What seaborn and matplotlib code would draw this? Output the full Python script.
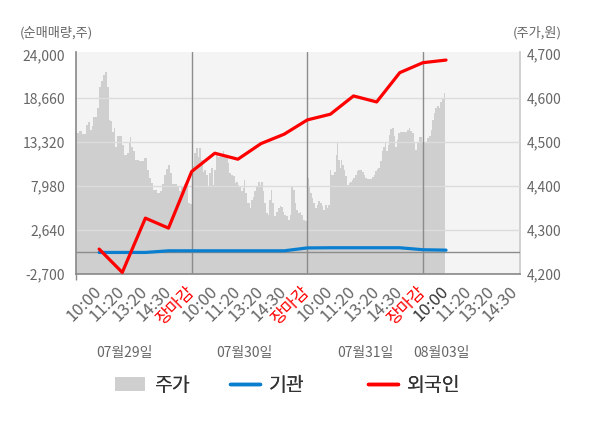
import numpy as np
import pandas as pd
import matplotlib
matplotlib.use("Agg")
import matplotlib.pyplot as plt
import seaborn as sns
from matplotlib.patches import Patch
from matplotlib.lines import Line2D

# ---------------- data ----------------
tick_labels = ["10:00", "11:20", "13:20", "14:30", "장마감"] * 3 + ["10:00", "11:20", "13:20", "14:30"]
tick_pos = list(range(1, 20))
date_labels = ["07월29일", "07월30일", "07월31일", "08월03일"]
date_pos = [2.1, 7.3, 12.5, 15.8]

flow_pos = list(range(1, 17))
foreign = [330, -2510, 4090, 2880, 9750, 11980, 11250, 13150, 14290, 16025,
           16720, 18940, 18210, 21770, 22980, 23300]
institution = [-80, -80, -80, 120, 120, 120, 120, 120, 120, 470,
               490, 490, 490, 490, 250, 200]

price_pos = [0.00, 0.22, 0.29, 0.40, 0.43, 0.58, 0.65, 0.72, 0.79, 0.87, 0.94, 1.01, 1.13, 1.23, 1.27,
             1.37, 1.44, 1.52, 1.59, 1.66, 1.73, 1.80, 1.95, 2.02, 2.14, 2.24, 2.31, 2.35, 2.42, 2.53,
             2.60, 2.81, 3.03, 3.10, 3.20, 3.29, 3.35, 3.46, 3.58, 3.68, 3.75, 3.82, 3.92, 4.04, 4.11,
             4.18, 4.33, 4.40, 4.47, 4.62, 4.76, 4.91, 4.98,
             5.01, 5.08, 5.16, 5.23, 5.30, 5.37, 5.45, 5.52, 5.59, 5.66, 5.73, 5.81, 5.88, 5.95, 6.02,
             6.09, 6.17, 6.24, 6.31, 6.38, 6.46, 6.53, 6.60, 6.67, 6.74, 6.82, 6.89, 6.96, 7.03, 7.10,
             7.18, 7.25, 7.29, 7.36, 7.47, 7.54, 7.61, 7.68, 7.75, 7.83, 7.90, 7.97, 8.04, 8.11, 8.19,
             8.26, 8.33, 8.40, 8.45, 8.52, 8.62, 8.69, 8.76, 8.84, 8.91, 8.98, 9.05, 9.12, 9.20, 9.27,
             9.34, 9.41, 9.49, 9.56, 9.63, 9.70, 9.77, 9.85, 9.92, 9.97,
             9.99, 10.04, 10.10, 10.16, 10.23, 10.30, 10.38, 10.45, 10.52, 10.59, 10.66, 10.74, 10.81,
             10.88, 10.95, 10.99, 11.05, 11.14, 11.20, 11.26, 11.31, 11.37, 11.43, 11.49, 11.54, 11.60,
             11.67, 11.75, 11.82, 11.89, 11.96, 12.03, 12.11, 12.18, 12.25, 12.32, 12.40, 12.47, 12.54,
             12.61, 12.68, 12.76, 12.83, 12.90, 12.97, 13.04, 13.12, 13.19, 13.26, 13.33, 13.38, 13.45,
             13.51, 13.56, 13.62, 13.69, 13.77, 13.84, 13.91, 13.98, 14.05, 14.20, 14.27, 14.34, 14.42,
             14.49, 14.56, 14.63, 14.70, 14.78, 14.85, 14.92, 14.99,
             15.07, 15.14, 15.21, 15.32, 15.38, 15.44, 15.50, 15.57, 15.64, 15.71, 15.79, 15.86, 15.93,
             15.96]
price = [4520, 4526, 4519, 4519, 4539, 4546, 4528, 4537, 4557, 4557, 4577, 4626, 4638, 4653, 4660,
         4626, 4551, 4547, 4524, 4532, 4490, 4514, 4513, 4494, 4471, 4475, 4498, 4511, 4489, 4479,
         4460, 4458, 4464, 4437, 4418, 4408, 4392, 4390, 4384, 4388, 4405, 4426, 4439, 4448, 4430,
         4405, 4405, 4399, 4388, 4399, 4405, 4361, 4360,
         4361, 4445, 4475, 4486, 4467, 4486, 4460, 4433, 4437, 4426, 4399, 4430, 4441, 4403, 4437,
         4475, 4466, 4475, 4467, 4479, 4471, 4467, 4452, 4430, 4426, 4422, 4407, 4410, 4403, 4399,
         4388, 4396, 4414, 4384, 4361, 4350, 4369, 4376, 4388, 4399, 4410, 4403, 4410, 4388, 4361,
         4339, 4335, 4369, 4392, 4361, 4331, 4342, 4350, 4355, 4352, 4342, 4335, 4331, 4323, 4335,
         4399, 4392, 4361, 4346, 4339, 4342, 4335, 4323, 4320, 4320,
         4426, 4418, 4399, 4384, 4373, 4361, 4350, 4358, 4365, 4361, 4354, 4346, 4358,
         4350, 4358, 4437, 4426, 4426, 4433, 4471, 4498, 4460, 4441, 4460, 4448, 4437,
         4422, 4403, 4407, 4410, 4414, 4418, 4426, 4435, 4437, 4437, 4433, 4426, 4418,
         4417, 4417, 4417, 4420, 4426, 4435, 4439, 4441, 4456, 4479, 4490, 4498, 4479,
         4494, 4517, 4530, 4532, 4513, 4490, 4505, 4520, 4522, 4522, 4522, 4528, 4532,
         4526, 4520, 4498, 4483, 4501, 4511, 4511, 4501,
         4501, 4498, 4509, 4513, 4528, 4551, 4566, 4577, 4583, 4577, 4592, 4600, 4611,
         4611]

left_ticks = [-2700, 2640, 7980, 13320, 18660, 24000]
right_ticks = [4200, 4300, 4400, 4500, 4600, 4700]
day_bounds = [5, 10, 15]
legend_labels = ["주가", "기관", "외국인"]

# ---------------- style ----------------
sns.set_theme(style="white")
plt.rcParams["font.family"] = ["Noto Sans CJK KR", "DejaVu Sans"]
plt.rcParams["axes.unicode_minus"] = False

fig = plt.figure(figsize=(6.0, 4.28), dpi=100)
ax2 = fig.add_axes([0.1267, 0.3598, 0.74, 0.5187])
ax = ax2.twinx()
ax.set_zorder(ax2.get_zorder() + 1)
ax.patch.set_visible(False)
ax2.set_facecolor("#f4f4f4")
ax.xaxis.set_visible(True)

# price area (right axis)
ax2.fill_between(price_pos, price, 4200, color="#cfcfcf", linewidth=0, step="mid")
ax2.set_ylim(4200, 4705)

ax.yaxis.tick_left()
ax.yaxis.set_label_position("left")
ax2.yaxis.tick_right()
ax2.yaxis.set_label_position("right")

ax.set_ylim(-2700, 24280)
for yv in left_ticks[1:-1]:
    ax.axhline(yv, color="#dcdcdc", lw=1, zorder=1)
ax.axhline(0, color="#8c8c8c", lw=1, zorder=1)
for xb in day_bounds:
    ax.axvline(xb, color="#8c8c8c", lw=1, zorder=1)

df = pd.DataFrame({"pos": flow_pos, "외국인": foreign, "기관": institution})
sns.lineplot(data=df, x="pos", y="기관", ax=ax, color="#0a7fd0", lw=2.3, zorder=3)
sns.lineplot(data=df, x="pos", y="외국인", ax=ax, color="#ff0000", lw=2.3, zorder=4)
ax.set_xlabel("")
ax.set_ylabel("")
ax2.set_xlabel("")
ax2.set_ylabel("")

ax.set_yticks(left_ticks)
ax.set_yticklabels([f"{v:,}" for v in left_ticks])
ax2.set_yticks(right_ticks)
ax2.set_yticklabels([f"{v:,}" for v in right_ticks])
ax.tick_params(axis="y", length=0, pad=8, labelsize=10, labelcolor="#666666")
ax2.tick_params(axis="y", length=0, pad=5, labelsize=10, labelcolor="#666666")

ax.set_xlim(0, 19.2)
ax.set_xticks(tick_pos)
ax.set_xticklabels(tick_labels, rotation=45, ha="right", va="center", rotation_mode="anchor")
ax.set_xticks([0] + day_bounds, minor=True)
ax.tick_params(axis="x", which="major", length=0, pad=11, labelsize=12, labelcolor="#666666",
               bottom=True, labelbottom=True)
ax.tick_params(axis="x", which="minor", length=4, color="#8c8c8c", width=1, bottom=True)
ax2.tick_params(axis="x", which="both", length=0, labelbottom=False, bottom=False)
for i, lab in enumerate(ax.get_xticklabels()):
    if tick_labels[i] == "장마감":
        lab.set_color("#ff0000")
    elif i == 15:
        lab.set_color("#333333")

for a in (ax, ax2):
    a.spines["top"].set_visible(False)
ax.spines["left"].set_color("#8c8c8c")
ax.spines["bottom"].set_color("#8c8c8c")
ax.spines["right"].set_visible(False)
ax2.spines["left"].set_visible(False)
ax2.spines["bottom"].set_visible(False)
ax2.spines["right"].set_color("#cccccc")

# date labels
for xp, dl in zip(date_pos, date_labels):
    ax.text(xp, -0.356, dl, transform=ax.get_xaxis_transform(), ha="center", va="center",
            fontsize=10, color="#666666")

# axis captions
fig.text(20 / 600, 1 - 33 / 428, "(순매매량,주)", ha="left", va="center", fontsize=9.5, color="#666666")
fig.text(562 / 600, 1 - 33 / 428, "(주가,원)", ha="right", va="center", fontsize=9.5, color="#666666")

handles = [Patch(facecolor="#cfcfcf", edgecolor="none"),
           Line2D([0], [0], color="#0a7fd0", lw=2.5),
           Line2D([0], [0], color="#ff0000", lw=2.5)]
legend_x = [0.192, 0.383, 0.613]
for h, lab, lx in zip(handles, legend_labels, legend_x):
    lg = fig.legend([h], [lab], loc="center left", bbox_to_anchor=(lx, 0.10),
                    frameon=False, fontsize=14, handlelength=1.55, handleheight=0.8,
                    handletextpad=0.45, borderpad=0, borderaxespad=0, labelcolor="#333333")
    fig.add_artist(lg)

fig.savefig("out.png", dpi=100)
